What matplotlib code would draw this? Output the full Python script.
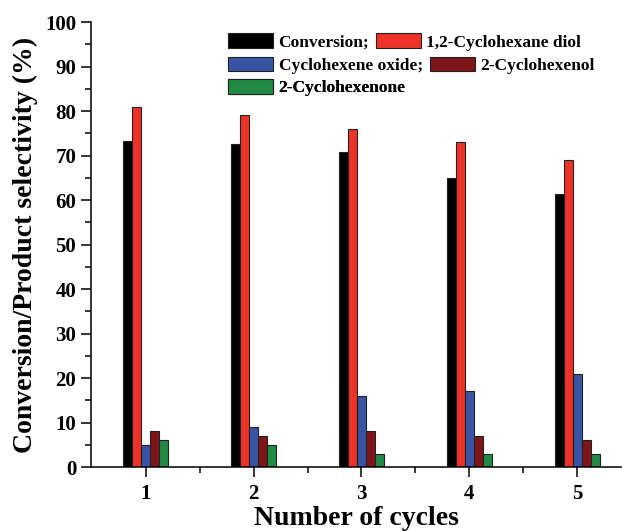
import numpy as np
import matplotlib.pyplot as plt
from matplotlib.patches import Patch

plt.rcParams['font.family'] = ['Liberation Serif', 'DejaVu Serif']
plt.rcParams['font.weight'] = 'bold'

cycles = [1, 2, 3, 4, 5]
conversion = [73.2, 72.6, 70.9, 65.0, 61.3]
diol = [81, 79, 76, 73, 69]
oxide = [5, 9, 16, 17, 21]
enol = [8, 7, 8, 7, 6]
enone = [6, 5, 3, 3, 3]

labels = ['Conversion;', '1,2-Cyclohexane diol', 'Cyclohexene oxide;',
          '2-Cyclohexenol', '2-Cyclohexenone']
colors = ['#000000', '#EE3228', '#3A54A5', '#7E1518', '#1F8A44']

fig = plt.figure(figsize=(6.22, 5.31), dpi=100)
ax = fig.add_axes([0.146, 0.1205, 0.853, 0.838])

x = np.array(cycles)
w = 0.083
series = [conversion, diol, oxide, enol, enone]
for i, (vals, c) in enumerate(zip(series, colors)):
    ax.bar(x + (i - 2) * w, vals, width=w, color=c, edgecolor='#222222',
           linewidth=0.8, zorder=2)

ax.set_xlim(0.49, 5.41)
ax.set_ylim(0, 100)
ax.set_xticks(cycles)
ax.set_xticks(np.arange(1.5, 5.0, 1.0), minor=True)
ax.set_yticks(np.arange(0, 101, 10))
ax.set_yticks(np.arange(5, 100, 10), minor=True)
ax.spines['top'].set_visible(False)
ax.spines['right'].set_visible(False)
for s in ['left', 'bottom']:
    ax.spines[s].set_linewidth(1.1)
ax.tick_params(which='major', direction='out', length=7, width=1.1, labelsize=15)
ax.tick_params(axis='x', which='major', pad=5)
ax.tick_params(which='minor', direction='out', length=4, width=1.1)
for t in ax.get_xticklabels() + ax.get_yticklabels():
    t.set_fontweight('bold')

ax.set_xlabel('Number of cycles', fontsize=20, fontweight='bold', labelpad=2)
ax.set_ylabel('Conversion/Product selectivity (%)', fontsize=20,
              fontweight='bold', labelpad=5)

# legend rows laid out as three separate legends
rows = [([0, 1], 0.955), ([2, 3], 0.903), ([4], 0.852)]
for idx, yy in rows:
    handles = [Patch(facecolor=colors[k], edgecolor='#222222', linewidth=0.8)
               for k in idx]
    leg = ax.legend(handles, [labels[k] for k in idx], ncol=len(idx),
                    loc='center left', bbox_to_anchor=(0.259, yy),
                    frameon=False, borderpad=0, borderaxespad=0,
                    handlelength=2.6, handleheight=0.9, handletextpad=0.3,
                    columnspacing=0.4, prop={'size': 12.5, 'weight': 'bold'})
    ax.add_artist(leg)

fig.savefig('out.png', dpi=100)
